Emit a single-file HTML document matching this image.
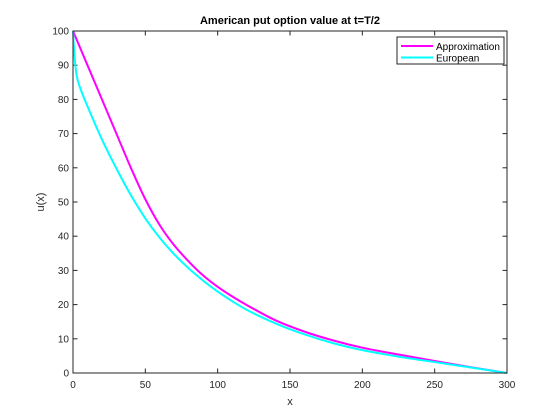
<!DOCTYPE html>
<html><head><meta charset="utf-8"><style>
body{margin:0;background:#fff}
svg{display:block;font-family:"Liberation Sans",sans-serif}
</style></head><body>
<svg id="chart" width="560" height="420">
<rect x="0" y="0" width="560" height="420" fill="#fff"/>
<rect x="73" y="31" width="434" height="342" fill="#fff"/>
<g id="ticks"></g>
<g id="series"></g>
<path d="M73 31V373H507V31H73Z" fill="none" stroke="#262626" stroke-width="1"/>
<text x="290" y="24" text-anchor="middle" font-size="11" font-weight="bold" fill="#000">American put option value at t=T/2</text>
<text x="290" y="405" text-anchor="middle" font-size="11" fill="#262626">x</text>
<text transform="translate(44,202) rotate(-90)" text-anchor="middle" font-size="11" fill="#262626">u(x)</text>
<g>
<rect x="397" y="37" width="107" height="27" fill="#fff" stroke="#262626" stroke-width="1"/>
<line x1="401" y1="46" x2="433" y2="46" stroke="#ff00ff" stroke-width="2"/>
<text x="436" y="50" font-size="10" fill="#000">Approximation</text>
<line x1="401" y1="57.5" x2="433" y2="57.5" stroke="#00ffff" stroke-width="2"/>
<text x="436" y="61.5" font-size="10" fill="#000">European</text>
</g>
</svg>
<script>
const xTicks=[0,50,100,150,200,250,300];
const yTicks=[0,10,20,30,40,50,60,70,80,90,100];
const approxX=[0,10,20,30,40,50,60,70,80,90,100,110,120,140,160,180,200,225,250,275,300];
const approxY=[100,90,80,70,60,50.8,43.2,37.3,32.6,28.5,25.2,22.4,19.9,15.4,12.1,9.5,7.4,5.4,3.5,1.7,0];
const euroX=[0,1,2.5,5,10,20,30,40,50,60,70,80,90,100,110,120,140,160,180,200,225,250,275,300];
const euroY=[100,93,87,83.3,78,68.3,59.8,52,45.2,39.5,34.7,30.6,27,23.8,21,18.5,14.5,11.3,8.7,6.7,4.8,3.2,1.6,0];
const L=73,R=507,T=31,B=373;
const sx=v=>L+(v-0)/(300-0)*(R-L);
const sy=v=>B-(v-0)/(100-0)*(B-T);
const NS="http://www.w3.org/2000/svg";
const tg=document.getElementById('ticks');
function mk(tag,attrs,parent){const e=document.createElementNS(NS,tag);for(const k in attrs)e.setAttribute(k,attrs[k]);parent.appendChild(e);return e;}
xTicks.forEach(v=>{
  const x=sx(v);
  const t1=mk('line',{x1:x,y1:B,x2:x,y2:B-4.5,stroke:'#262626'},tg);
  
  
  const t2=mk('line',{x1:x,y1:T,x2:x,y2:T+4.5,stroke:'#262626'},tg);
  
  
  const lb=mk('text',{x:x,y:B+15,'text-anchor':'middle','font-size':'10',fill:'#262626'},tg);
  lb.textContent=v;
  
  
});
yTicks.forEach(v=>{
  const y=sy(v);
  const t1=mk('line',{x1:L,y1:y,x2:L+4.5,y2:y,stroke:'#262626'},tg);
  
  
  const t2=mk('line',{x1:R,y1:y,x2:R-4.5,y2:y,stroke:'#262626'},tg);
  
  
  const lb=mk('text',{x:L-4,y:y+3.5,'text-anchor':'end','font-size':'10',fill:'#262626'},tg);
  lb.textContent=v;
  
  
});
const sg=document.getElementById('series');
function line(xs,ys,color,name){
  const P=xs.map((x,i)=>[sx(x),sy(ys[i])]);
  let d='M'+P[0][0].toFixed(2)+' '+P[0][1].toFixed(2);
  for(let i=0;i<P.length-1;i++){
    const p0=P[i-1]||P[i],p1=P[i],p2=P[i+1],p3=P[i+2]||P[i+1];
    const h=p2[0]-p1[0];
    const m1=(p2[1]-p0[1])/((p2[0]-p0[0])||1), m2=(p3[1]-p1[1])/((p3[0]-p1[0])||1);
    const c1=[p1[0]+h/3,p1[1]+m1*h/3];
    const c2=[p2[0]-h/3,p2[1]-m2*h/3];
    d+='C'+c1[0].toFixed(2)+' '+c1[1].toFixed(2)+' '+c2[0].toFixed(2)+' '+c2[1].toFixed(2)+' '+p2[0].toFixed(2)+' '+p2[1].toFixed(2);
  }
  const p=mk('path',{d:d,fill:'none',stroke:color,'stroke-width':'2','stroke-linejoin':'round'},sg);
  
  
}
line(approxX,approxY,'#ff00ff','approximation-line');
line(euroX,euroY,'#00ffff','european-line');
</script>
</body></html>
